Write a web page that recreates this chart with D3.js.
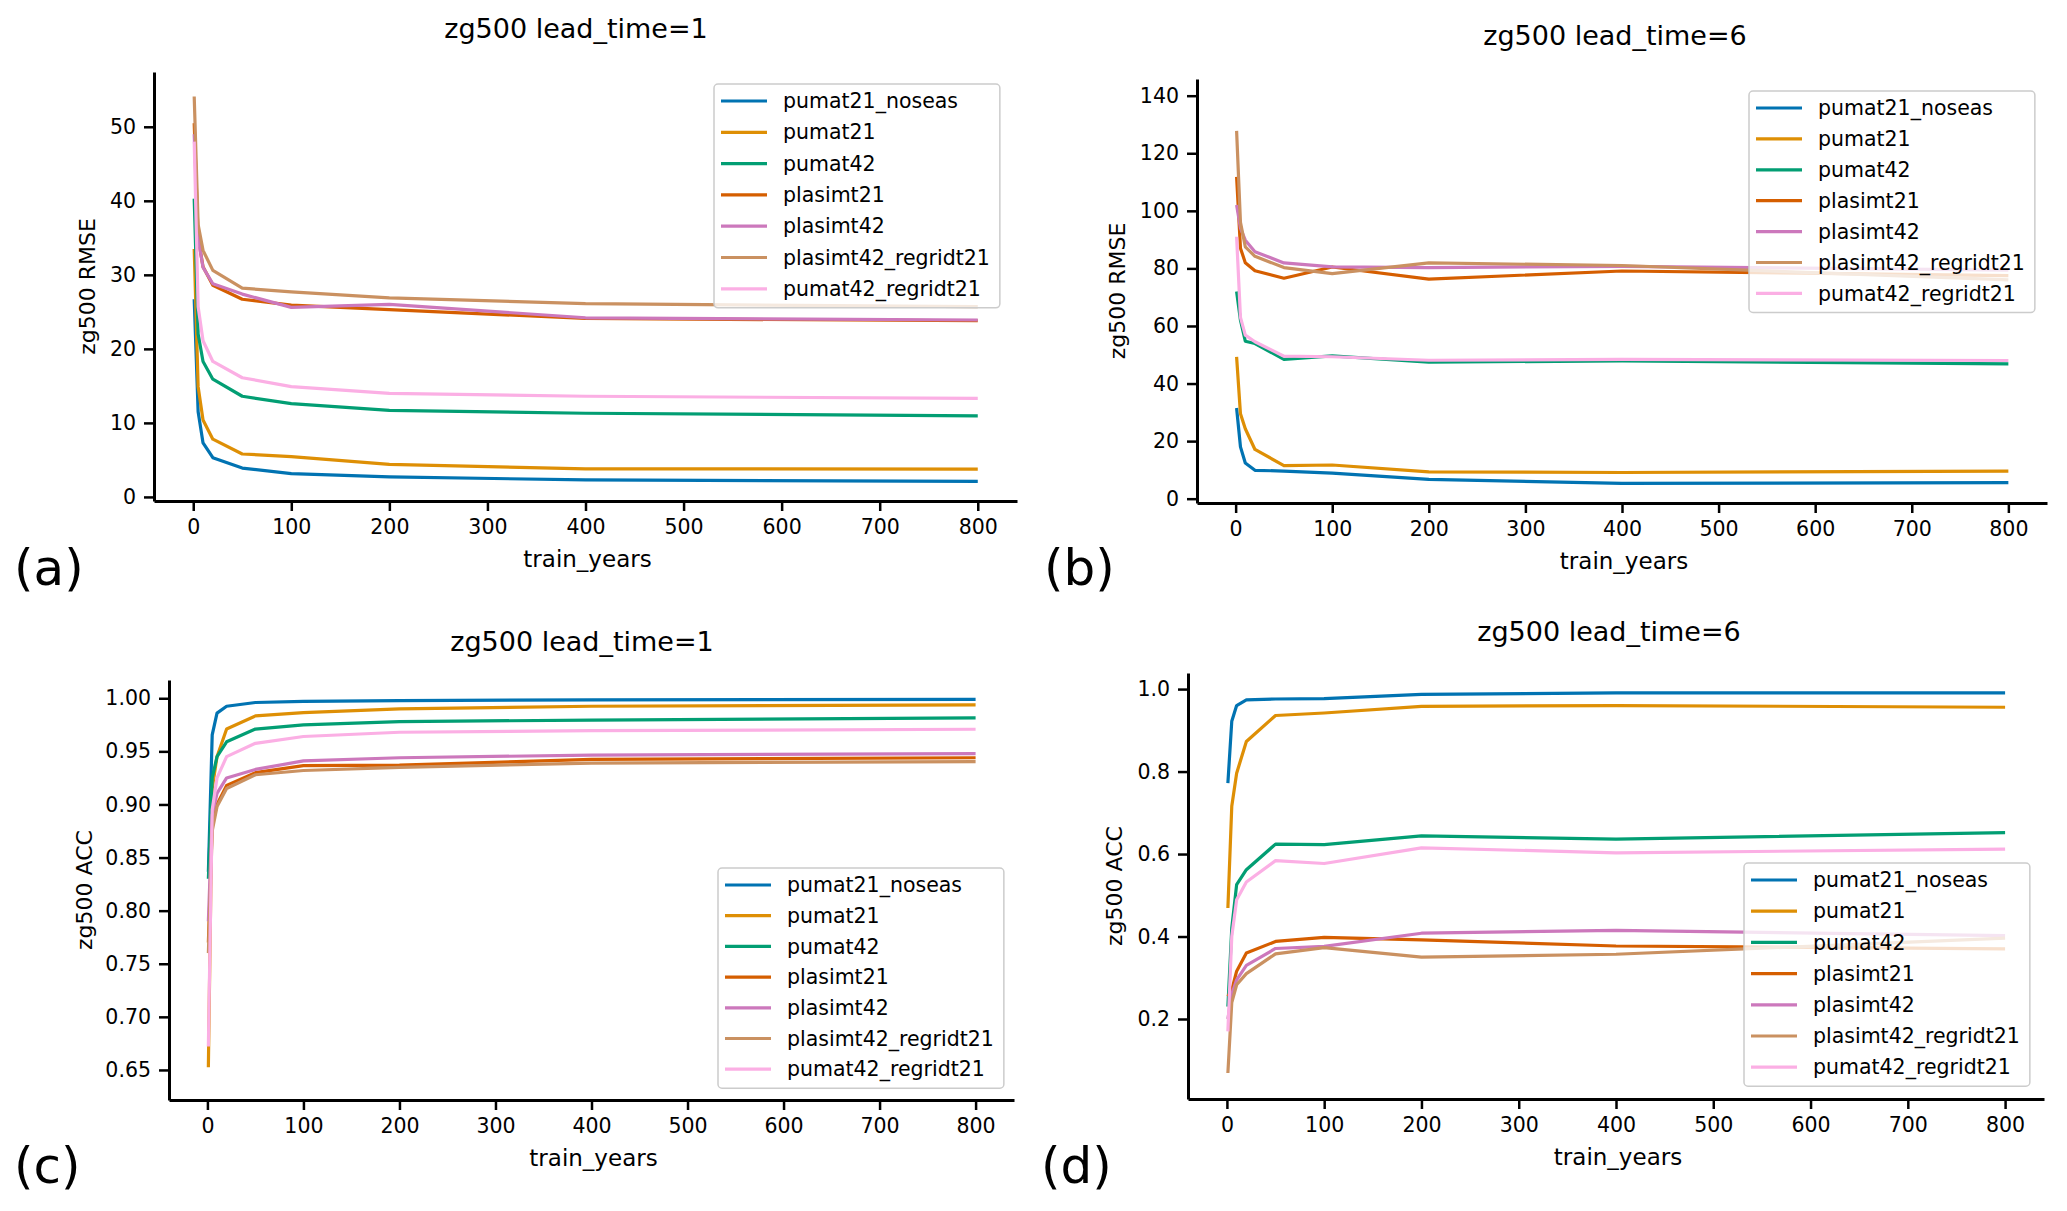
<!DOCTYPE html>
<html>
<head>
<meta charset="utf-8">
<script src="https://cdn.jsdelivr.net/npm/d3@7"></script>
<style>
  body { margin: 0; background: #fff; }
  text { font-family: "DejaVu Sans", sans-serif; fill: #000; }
</style>
</head>
<body>
<div id="chart"></div>
<script>
// ---- data ----
const trainYears = [1, 5, 10, 20, 50, 100, 200, 400, 800];
const seriesNames = ['pumat21_noseas', 'pumat21', 'pumat42', 'plasimt21', 'plasimt42', 'plasimt42_regridt21', 'pumat42_regridt21'];
const seriesColors = ['#0173b2', '#de8f05', '#029e73', '#d55e00', '#cc78bc', '#ca9161', '#fbafe4'];
const xTicks = [0, 100, 200, 300, 400, 500, 600, 700, 800];

// (a) RMSE, lead_time=1
const rmseLead1 = [
  [26.7, 11.5, 7.3, 5.3, 3.9, 3.15, 2.7, 2.3, 2.1],
  [33.5, 14.9, 10.4, 7.8, 5.8, 5.45, 4.4, 3.8, 3.75],
  [40.3, 22.0, 18.3, 15.9, 13.6, 12.6, 11.7, 11.3, 10.95],
  [50.5, 35.0, 31.1, 28.6, 26.7, 25.9, 25.3, 24.1, 23.8],
  [49.0, 35.0, 31.0, 28.8, 27.4, 25.6, 26.0, 24.2, 23.9],
  [54.1, 36.8, 33.3, 30.6, 28.2, 27.7, 26.9, 26.1, 25.7],
  [48.0, 25.7, 21.1, 18.3, 16.1, 14.9, 14.0, 13.6, 13.3]
];
const rmseLead1Ticks = [0, 10, 20, 30, 40, 50];

// (b) RMSE, lead_time=6
const rmseLead6 = [
  [31.5, 18.0, 12.4, 9.85, 9.6, 8.9, 6.7, 5.3, 5.6],
  [49.3, 29.5, 24.3, 17.1, 11.5, 11.7, 9.3, 9.1, 9.6],
  [72.0, 62.0, 54.7, 53.9, 48.4, 49.6, 47.4, 47.9, 46.8],
  [111.8, 87.0, 82.0, 79.2, 76.6, 80.5, 76.3, 79.1, 77.5],
  [102.0, 94.0, 89.8, 85.8, 81.9, 80.5, 80.3, 80.7, 79.4],
  [127.8, 96.0, 87.5, 84.2, 80.3, 78.2, 81.9, 81.0, 76.0],
  [91.0, 63.0, 56.8, 54.5, 49.5, 49.3, 48.1, 48.4, 48.0]
];
const rmseLead6Ticks = [0, 20, 40, 60, 80, 100, 120, 140];

// (c) ACC, lead_time=1
const accLead1 = [
  [0.8365, 0.9655, 0.986, 0.9925, 0.996, 0.997, 0.9978, 0.9985, 0.999],
  [0.6525, 0.915, 0.945, 0.971, 0.9834, 0.9865, 0.990, 0.9925, 0.9937],
  [0.83, 0.925, 0.945, 0.959, 0.971, 0.975, 0.978, 0.9795, 0.9815],
  [0.77, 0.88, 0.900, 0.918, 0.930, 0.9366, 0.937, 0.9425, 0.944],
  [0.79, 0.89, 0.9105, 0.925, 0.933, 0.941, 0.944, 0.9465, 0.9478],
  [0.76, 0.875, 0.898, 0.915, 0.928, 0.932, 0.935, 0.939, 0.9403],
  [0.672, 0.895, 0.925, 0.945, 0.9576, 0.964, 0.968, 0.9695, 0.9708]
];
const accLead1Ticks = [0.65, 0.70, 0.75, 0.80, 0.85, 0.90, 0.95, 1.00];

// (d) ACC, lead_time=6
const accLead6 = [
  [0.772, 0.922, 0.960, 0.974, 0.976, 0.977, 0.987, 0.991, 0.991],
  [0.469, 0.716, 0.796, 0.873, 0.936, 0.942, 0.958, 0.960, 0.956],
  [0.23, 0.42, 0.526, 0.562, 0.624, 0.623, 0.644, 0.636, 0.652],
  [0.255, 0.27, 0.316, 0.360, 0.388, 0.398, 0.392, 0.377, 0.370],
  [0.20, 0.26, 0.295, 0.330, 0.371, 0.376, 0.408, 0.415, 0.402],
  [0.069, 0.24, 0.283, 0.310, 0.358, 0.373, 0.350, 0.357, 0.396],
  [0.17, 0.40, 0.489, 0.532, 0.584, 0.577, 0.615, 0.603, 0.612]
];
const accLead6Ticks = [0.2, 0.4, 0.6, 0.8, 1.0];

// ---- layout ----
const panels = [
  { letter: '(a)', title: 'zg500 lead_time=1', ylabel: 'zg500 RMSE', values: rmseLead1, yTicks: rmseLead1Ticks, fmt: d3.format('d'),
    box: { l: 154, r: 1017, t: 72, b: 501 }, yDomain: [-0.55, 57.4],
    titleX: 576, titleY: 38, ylabelX: 95, letterPos: [14, 585], legend: [714, 84], rowH: 31.3 },
  { letter: '(b)', title: 'zg500 lead_time=6', ylabel: 'zg500 RMSE', values: rmseLead6, yTicks: rmseLead6Ticks, fmt: d3.format('d'),
    box: { l: 1197, r: 2047, t: 79, b: 503 }, yDomain: [-1.5, 145.8],
    titleX: 1615, titleY: 45, ylabelX: 1125, letterPos: [1044, 585], legend: [1749, 91], rowH: 30.9 },
  { letter: '(c)', title: 'zg500 lead_time=1', ylabel: 'zg500 ACC', values: accLead1, yTicks: accLead1Ticks, fmt: d3.format('.2f'),
    box: { l: 169, r: 1014, t: 680, b: 1100 }, yDomain: [0.6217, 1.0172],
    titleX: 582, titleY: 651, ylabelX: 92, letterPos: [14, 1183], legend: [718, 868], rowH: 30.7 },
  { letter: '(d)', title: 'zg500 lead_time=6', ylabel: 'zg500 ACC', values: accLead6, yTicks: accLead6Ticks, fmt: d3.format('.1f'),
    box: { l: 1188, r: 2044, t: 673, b: 1099 }, yDomain: [0.006, 1.039],
    titleX: 1609, titleY: 641, ylabelX: 1122, letterPos: [1041, 1183], legend: [1744, 863], rowH: 31.2 }
];

const width = 2067;
const height = 1211;

const svg = d3.select('#chart')
  .append('svg')
  .attr('width', width)
  .attr('height', height)
  .attr('viewBox', `0 0 ${width} ${height}`);

svg.append('rect').attr('width', width).attr('height', height).attr('fill', '#fff');

panels.forEach(p => {
  const x = d3.scaleLinear().domain([-40, 840]).range([p.box.l, p.box.r]);
  const y = d3.scaleLinear().domain(p.yDomain).range([p.box.b, p.box.t]);
  const g = svg.append('g');

  // lines
  const line = d3.line()
    .x((d, i) => x(trainYears[i]))
    .y(d => y(d));

  g.append('g')
    .selectAll('path')
    .data(p.values)
    .enter().append('path')
    .attr('d', line)
    .attr('fill', 'none')
    .attr('stroke', (d, i) => seriesColors[i])
    .attr('stroke-width', 3.2)
    .attr('stroke-linejoin', 'round');

  // axes
  const xAxis = g.append('g')
    .attr('transform', `translate(0,${p.box.b})`)
    .call(d3.axisBottom(x).tickValues(xTicks).tickSize(10).tickPadding(8).tickSizeOuter(0));
  const yAxis = g.append('g')
    .attr('transform', `translate(${p.box.l},0)`)
    .call(d3.axisLeft(y).tickValues(p.yTicks).tickFormat(p.fmt).tickSize(10).tickPadding(8).tickSizeOuter(0));

  [xAxis, yAxis].forEach(a => {
    a.select('.domain').attr('stroke', '#000').attr('stroke-width', 3);
    a.selectAll('.tick line').attr('stroke', '#000').attr('stroke-width', 2.5);
    a.selectAll('.tick text')
      .attr('font-size', 20.5)
      .attr('font-family', '"DejaVu Sans", sans-serif')
      .attr('fill', '#000');
  });

  // titles and labels
  g.append('text')
    .attr('x', p.titleX).attr('y', p.titleY)
    .attr('text-anchor', 'middle')
    .attr('font-size', 27)
    .text(p.title);

  g.append('text')
    .attr('x', (p.box.l + p.box.r) / 2 + 2)
    .attr('y', p.box.b + 66)
    .attr('text-anchor', 'middle')
    .attr('font-size', 23)
    .text('train_years');

  g.append('text')
    .attr('transform', `translate(${p.ylabelX},${(p.box.t + p.box.b) / 2}) rotate(-90)`)
    .attr('text-anchor', 'middle')
    .attr('font-size', 22)
    .text(p.ylabel);

  g.append('text')
    .attr('x', p.letterPos[0]).attr('y', p.letterPos[1])
    .attr('font-size', 50)
    .text(p.letter);

  // legend
  const lg = g.append('g').attr('transform', `translate(${p.legend[0]},${p.legend[1]})`);
  const frame = lg.append('rect')
    .attr('rx', 4)
    .attr('fill', '#fff')
    .attr('fill-opacity', 0.8)
    .attr('stroke', '#cccccc')
    .attr('stroke-width', 1.5);

  const rows = lg.selectAll('g.row')
    .data(seriesNames)
    .enter().append('g')
    .attr('class', 'row')
    .attr('transform', (d, i) => `translate(0,${17 + i * p.rowH})`);

  rows.append('line')
    .attr('x1', 7).attr('x2', 53)
    .attr('stroke', (d, i) => seriesColors[i])
    .attr('stroke-width', 3.2);

  rows.append('text')
    .attr('x', 69)
    .attr('dy', '0.35em')
    .attr('font-size', 20.5)
    .text(d => d);

  let maxW = 0;
  rows.selectAll('text').each(function () {
    maxW = Math.max(maxW, this.getComputedTextLength());
  });
  frame
    .attr('width', 69 + maxW + 10)
    .attr('height', 17 + 6 * p.rowH + 19);
});
</script>
</body>
</html>
